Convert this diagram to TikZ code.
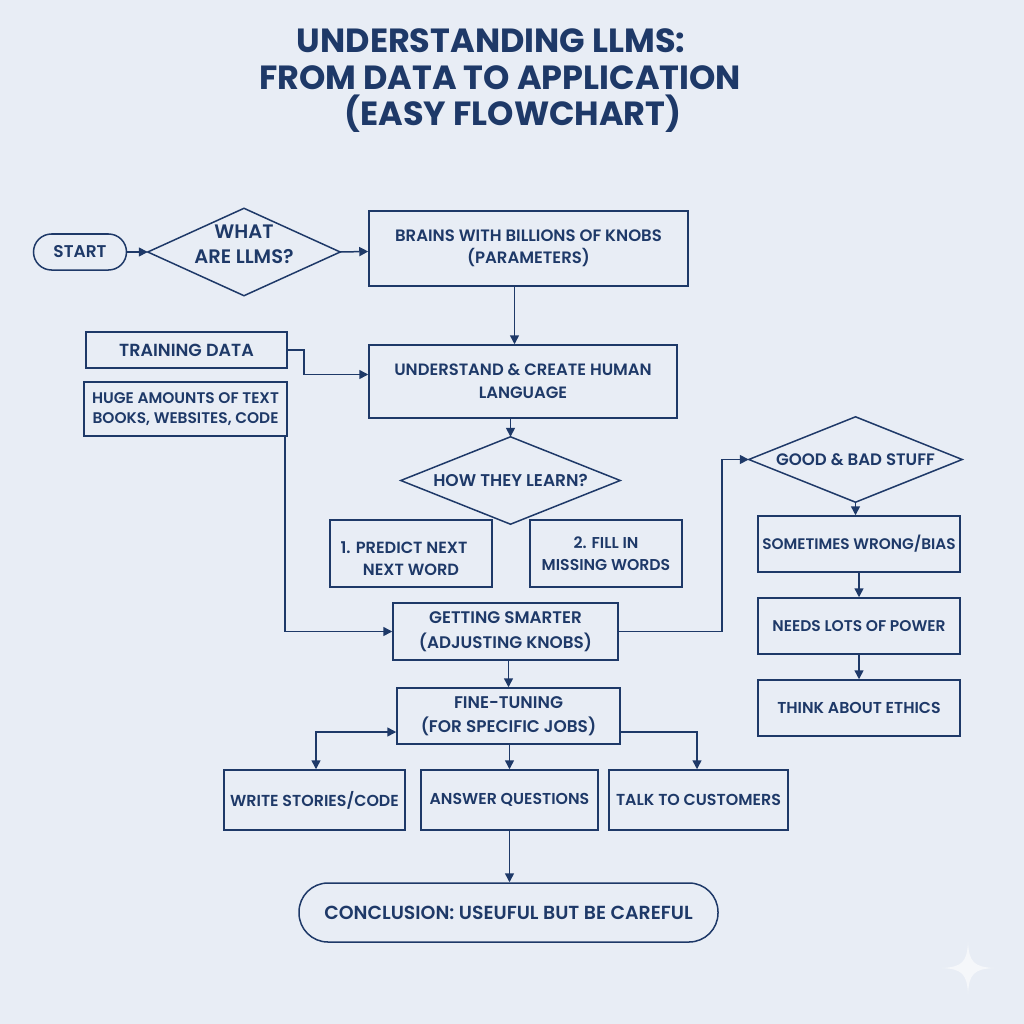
\documentclass[tikz,border=0pt]{standalone}
\usepackage{fontspec}
\setmainfont{Poppins}[BoldFont={* SemiBold}]
\newfontfamily\titlefont{Poppins}[UprightFont={* Bold}]
\usetikzlibrary{arrows.meta}
\definecolor{navy}{RGB}{30,57,104}
\definecolor{bgc}{RGB}{232,237,245}
\begin{document}
\begin{tikzpicture}[x=1pt,y=-1pt,
  every node/.style={text=navy,align=center,inner sep=0pt},
  fs/.style 2 args={font=\fontsize{#1}{#2}\selectfont\bfseries},
  box/.style={draw=navy,line width=1.5pt,rectangle},
  dia/.style={rectangle},
  pill/.style={draw=navy,line width=1.5pt,rectangle,rounded corners=#1},
  diaborder/.style={draw=navy,line width=1.5pt,line join=miter},
  conn/.style={draw=navy,line width=1.5pt,-{Triangle[length=9pt,width=9pt]}},
  conn2/.style={draw=navy,line width=1.5pt,{Triangle[length=9pt,width=9pt]}-{Triangle[length=9pt,width=9pt]}}]
\fill[bgc] (0,0) rectangle (1024,1024);
\fill[white!55!bgc] (968,942) .. controls (969,962) and (974,967) .. (994,968) .. controls (974,969) and (969,974) .. (968,994) .. controls (967,974) and (962,969) .. (942,968) .. controls (962,967) and (967,962) .. (968,942) -- cycle;
\node[font=\titlefont\fontsize{33.5}{36.5}\selectfont] (title) at (500,81) {UNDERSTANDING LLMS:\hspace*{18pt}\\FROM DATA TO APPLICATION\\\hspace*{26pt}(EASY FLOWCHART)};
\node[pill=18pt,minimum width=93pt,minimum height=36pt,fs={17}{22}] (start) at (80,252) {START};
\node[dia,minimum width=192pt,minimum height=87pt] (q1) at (244,252) {};
\node[fs={19.5}{25}] (q1t) at (244,244) {WHAT\\ARE LLMS?};
\node[box,minimum width=319pt,minimum height=75pt,fs={16.5}{22}] (brains) at (528.5,248.5) {BRAINS WITH BILLIONS OF KNOBS\\(PARAMETERS)};
\node[box,minimum width=201pt,minimum height=36pt,fs={17.5}{22}] (train) at (186.5,350) {TRAINING DATA};
\node[box,minimum width=203pt,minimum height=54pt,fs={15.4}{20}] (huge) at (185.5,409) {HUGE AMOUNTS OF TEXT\\BOOKS, WEBSITES, CODE};
\node[box,minimum width=308pt,minimum height=73pt,fs={16.4}{23}] (under) at (523,381.5) {UNDERSTAND \& CREATE HUMAN\\LANGUAGE};
\node[dia,minimum width=219pt,minimum height=87pt,fs={17}{22}] (q2) at (510.5,480.5) {HOW THEY LEARN?};
\node[box,minimum width=162pt,minimum height=67pt,fs={16.2}{22}] (pred) at (411,553.5) {\raisebox{-22pt}[0pt][0pt]{\shortstack{1. PREDICT NEXT\hspace*{14pt}\\[7pt]NEXT WORD}}};
\node[box,minimum width=152pt,minimum height=67pt,fs={15.7}{22}] (fill) at (606,553.5) {2. FILL IN\\MISSING WORDS};
\node[box,minimum width=225pt,minimum height=57pt,fs={16.8}{25}] (smart) at (505.5,631.5) {GETTING SMARTER\\(ADJUSTING KNOBS)};
\node[dia,minimum width=213pt,minimum height=85pt,fs={16.6}{22}] (q3) at (855.5,459.5) {GOOD \& BAD STUFF};
\node[box,minimum width=202pt,minimum height=56pt,fs={15.3}{22}] (wrong) at (859,544) {SOMETIMES WRONG/BIAS};
\node[box,minimum width=202pt,minimum height=56pt,fs={15.5}{22}] (power) at (859,626) {NEEDS LOTS OF POWER};
\node[box,minimum width=202pt,minimum height=56pt,fs={15.8}{22}] (ethics) at (859,708) {THINK ABOUT ETHICS};
\node[box,minimum width=223pt,minimum height=56pt,fs={16.9}{24}] (fine) at (508.5,716) {FINE-TUNING\\(FOR SPECIFIC JOBS)};
\node[box,minimum width=181pt,minimum height=60pt,fs={15.9}{22}] (stories) at (314.5,800) {WRITE STORIES/CODE};
\node[box,minimum width=177pt,minimum height=60pt,fs={15.8}{22}] (answer) at (509.5,800) {ANSWER QUESTIONS};
\node[box,minimum width=179pt,minimum height=60pt,fs={15.9}{22}] (talk) at (698.5,800) {TALK TO CUSTOMERS};
\node[pill=29pt,minimum width=419pt,minimum height=59pt,fs={18.9}{24}] (concl) at (508.5,912.5) {CONCLUSION: USEUFUL BUT BE CAREFUL};
\foreach \d in {q1,q2,q3}
  \draw[diaborder] (\d.north) -- (\d.east) -- (\d.south) -- (\d.west) -- cycle;
\draw[conn] (start) -- (q1.west);
\draw[conn] (q1.east) -- (brains);
\draw[conn] ([xshift=-14pt]brains.south) -- ([xshift=-14pt]brains.south |- under.north);
\draw[conn] (train.east) -- ++(16,0) |- ([yshift=7pt]under.west);
\draw[conn] (q2.north |- under.south) -- (q2.north);
\draw[conn] ([xshift=-3pt]huge.south east) |- (smart.west);
\draw[conn] (smart.east) -- ++(103,0) |- (q3.west);
\draw[conn] (q3.south) -- (q3.south |- wrong.north);
\draw[conn] (wrong) -- (power);
\draw[conn] (power) -- (ethics);
\draw[conn] (fine.north |- smart.south) -- (fine.north);
\draw[conn2] ([yshift=-16pt]fine.west) -| ([xshift=1.5pt]stories.north);
\draw[conn] ([yshift=-16pt]fine.east) -| ([xshift=-1.5pt]talk.north);
\draw[conn] (answer.north |- fine.south) -- (answer.north);
\draw[conn] (answer.south) -- (answer.south |- concl.north);
\end{tikzpicture}
\end{document}
